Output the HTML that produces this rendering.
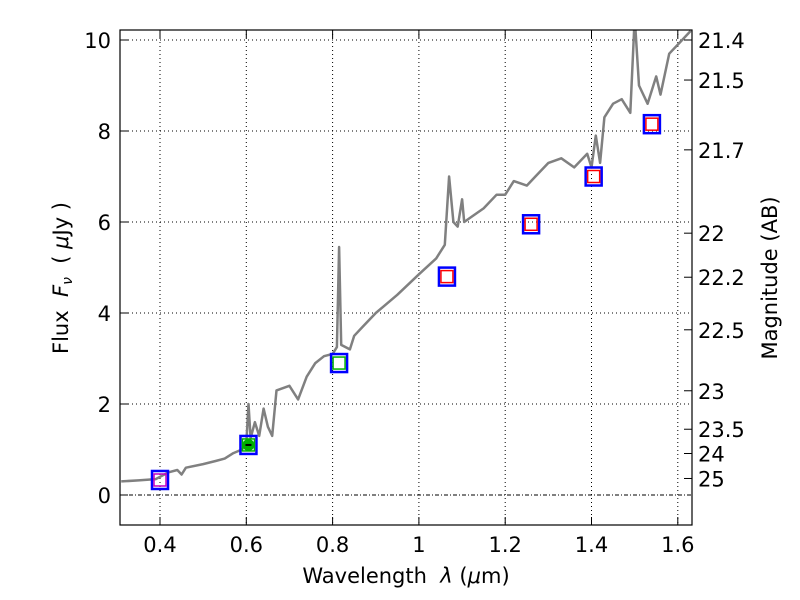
<!DOCTYPE html>
<html><head><meta charset="utf-8"><style>
body{margin:0;background:#fff;}
svg{display:block;font-family:"DejaVu Sans","Liberation Sans",sans-serif;}
</style></head><body>
<svg id="chart" width="800" height="600">
<defs><clipPath id="clip"><rect x="120" y="30" width="572" height="495"/></clipPath></defs>
<g id="grid"></g>
<g id="series" clip-path="url(#clip)"></g>
<rect x="120" y="30" width="572" height="495" fill="none" stroke="#000" stroke-width="1.2"/>
<g id="axes" font-size="21"></g>
<text x="406" y="583" font-size="21" text-anchor="middle">Wavelength&#160; <tspan font-style="italic">λ</tspan> (<tspan font-style="italic">μ</tspan>m)</text>
<text transform="translate(68,278) rotate(-90)" font-size="21" text-anchor="middle">Flux&#160; <tspan font-style="italic">F<tspan font-size="14" dy="4">ν</tspan></tspan><tspan dy="-4">&#160; ( </tspan><tspan font-style="italic">μ</tspan>Jy )</text>
<text transform="translate(777,278) rotate(-90)" font-size="21" text-anchor="middle">Magnitude (AB)</text>
</svg>
<script>
const xTicks=[0.4,0.6,0.8,1.0,1.2,1.4,1.6];
const xTickLabels=["0.4","0.6","0.8","1","1.2","1.4","1.6"];
const yTicks=[0,2,4,6,8,10];
const magTicks=[21.4,21.5,21.7,22,22.2,22.5,23,23.5,24,25];
const specLambda=[.31,.35,.39,.40,.42,.44,.45,.46,.50,.53,.55,.57,.59,.60,.605,.61,.62,.63,.64,.65,.66,.67,.70,.72,.74,.76,.78,.80,.81,.815,.82,.84,.85,.87,.90,.95,1.0,1.04,1.06,1.07,1.08,1.09,1.10,1.105,1.12,1.15,1.18,1.20,1.22,1.25,1.27,1.30,1.33,1.36,1.39,1.40,1.41,1.42,1.43,1.45,1.47,1.49,1.50,1.51,1.53,1.55,1.56,1.58,1.60,1.63];
const specFlux=[.30,.32,.35,.40,.50,.55,.45,.60,.68,.75,.80,.92,1.00,1.12,2.0,1.25,1.6,1.3,1.9,1.5,1.3,2.3,2.4,2.1,2.6,2.9,3.05,3.1,3.25,5.45,3.3,3.2,3.5,3.7,4.0,4.4,4.85,5.2,5.5,7.0,6.0,5.9,6.5,6.0,6.1,6.3,6.6,6.6,6.9,6.8,7.0,7.3,7.4,7.2,7.5,7.2,7.9,7.3,8.3,8.6,8.7,8.4,10.5,9.0,8.6,9.2,8.8,9.7,9.9,10.2];
const photLambda=[0.40,0.605,0.815,1.065,1.26,1.405,1.54];
const photFlux=[0.33,1.1,2.9,4.8,5.95,7.0,8.15];
const photInner=["#c000c0","#00b000","#00b000","red","red","red","red"];
const X=v=>160+(v-0.4)*431.5;
const Y=v=>495-v*45.5;
const NS="http://www.w3.org/2000/svg";
function mk(tag,attrs,parent,txt){const e=document.createElementNS(NS,tag);for(const k in attrs)e.setAttribute(k,attrs[k]);if(txt!==undefined)e.textContent=txt;parent.appendChild(e);return e;}
const grid=document.getElementById('grid'),axes=document.getElementById('axes'),series=document.getElementById('series');
xTicks.forEach((t,i)=>{
 const l=mk('line',{x1:X(t),x2:X(t),y1:30,y2:525,stroke:'#000','stroke-width':1,'stroke-dasharray':'1,3'},grid);
 
 
 mk('line',{x1:X(t),x2:X(t),y1:525,y2:517,stroke:'#000'},axes);
 mk('line',{x1:X(t),x2:X(t),y1:30,y2:38,stroke:'#000'},axes);
 const tx=mk('text',{x:X(t),y:552,'text-anchor':'middle'},axes,xTickLabels[i]);
 
 
});
yTicks.forEach(t=>{
 const l=mk('line',{x1:120,x2:692,y1:Y(t),y2:Y(t),stroke:'#000','stroke-width':1,'stroke-dasharray':t===0?'4,2,1,2':'1,3'},grid);
 
 
 mk('line',{x1:120,x2:128,y1:Y(t),y2:Y(t),stroke:'#000'},axes);
 const tx=mk('text',{x:111,y:Y(t)+8,'text-anchor':'end'},axes,String(t));
 
 
});
magTicks.forEach(m=>{
 const f=Math.pow(10,(23.9-m)/2.5);
 mk('line',{x1:684,x2:692,y1:Y(f),y2:Y(f),stroke:'#000'},axes);
 const tx=mk('text',{x:698,y:Y(f)+8},axes,String(m));
 
 
});
const pts=specLambda.map((l,i)=>X(l).toFixed(1)+','+Y(specFlux[i]).toFixed(1)).join(' ');
const pl=mk('polyline',{points:pts,fill:'none',stroke:'#808080','stroke-width':2.5,'stroke-linejoin':'round'},series);


photLambda.forEach((l,i)=>{
 const cx=X(l),cy=Y(photFlux[i]);
 const o=mk('rect',{x:cx-8,y:cy-9,width:16,height:18,fill:'none',stroke:'blue','stroke-width':2.5},series);
 
 
 mk('rect',{x:cx-6,y:cy-6,width:12,height:12,fill:'none',stroke:photInner[i],'stroke-width':1.5},series);
 if(i===1){mk('circle',{cx:cx,cy:cy,r:6,fill:'#00b000'},series);mk('line',{x1:cx-3,x2:cx+3,y1:cy,y2:cy,stroke:'#000','stroke-width':2},series);}
});
</script>
</body></html>
